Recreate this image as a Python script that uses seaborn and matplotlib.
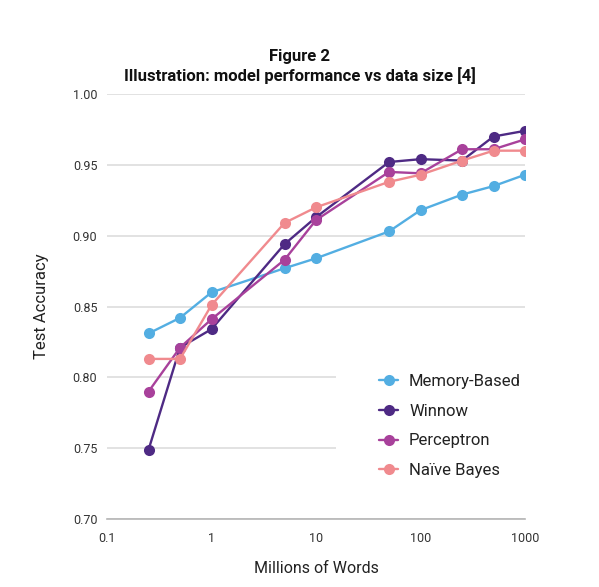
import numpy as np
import pandas as pd
import seaborn as sns
import matplotlib
matplotlib.use("Agg")
import matplotlib.pyplot as plt
from matplotlib.lines import Line2D
from matplotlib.patches import Rectangle

# ---- data ----
words = [0.25, 0.5, 1, 5, 10, 50, 100, 250, 500, 1000]
memory_based = [0.831, 0.842, 0.860, 0.877, 0.884, 0.903, 0.918, 0.929, 0.935, 0.943]
winnow       = [0.749, 0.821, 0.834, 0.894, 0.913, 0.952, 0.954, 0.953, 0.970, 0.974]
perceptron   = [0.790, 0.821, 0.841, 0.883, 0.911, 0.945, 0.944, 0.961, 0.961, 0.968]
naive_bayes  = [0.813, 0.813, 0.851, 0.909, 0.920, 0.938, 0.943, 0.953, 0.960, 0.960]

models = ["Memory-Based", "Winnow", "Perceptron", "Naïve Bayes"]
colors = ["#53AEE2", "#4E2A84", "#A8419B", "#F08A8E"]
xticks = [0.1, 1, 10, 100, 1000]
xtick_labels = ["0.1", "1", "10", "100", "1000"]
yticks = [0.70, 0.75, 0.80, 0.85, 0.90, 0.95, 1.00]

series = [memory_based, winnow, perceptron, naive_bayes]
df = pd.concat(
    [pd.DataFrame({"words": words, "acc": s, "model": m}) for m, s in zip(models, series)],
    ignore_index=True,
)

sns.set_theme(style="white")
plt.rcParams["font.family"] = ["Roboto", "DejaVu Sans"]

W, H = 599, 587
fig = plt.figure(figsize=(W / 100, H / 100), dpi=100)
ax = fig.add_axes([107 / W, 1 - 519 / H, (525 - 107) / W, (519 - 94) / H])

sns.lineplot(data=df, x="words", y="acc", hue="model", hue_order=models,
             palette=colors, marker="o", markersize=8, markeredgewidth=0,
             linewidth=1.7, legend=False, ax=ax, zorder=3)

ax.set_xscale("log")
ax.set_xlim(0.1, 1000)
ax.set_ylim(0.70, 1.00)
ax.set_xticks(xticks)
ax.set_xticklabels(xtick_labels)
ax.minorticks_off()
ax.set_yticks(yticks)
ax.set_yticklabels([f"{v:.2f}" for v in yticks])

for s in ["top", "right", "left"]:
    ax.spines[s].set_visible(False)
ax.spines["bottom"].set_color("#b5b5b5")
ax.spines["bottom"].set_linewidth(1.2)
ax.yaxis.grid(True, color="#dddddd", linewidth=1.2)
ax.xaxis.grid(False)
ax.set_axisbelow(True)
ax.tick_params(axis="both", length=0, labelsize=9, colors="#333333")
ax.tick_params(axis="y", pad=7)
ax.tick_params(axis="x", pad=9)

ax.set_xlabel("Millions of Words", fontsize=11.5, color="#222222", labelpad=12)
ax.set_ylabel("Test Accuracy", fontsize=12, color="#222222", labelpad=17)

# white background behind legend (hides grid lines there)
fig.add_artist(Rectangle((336 / W, 1 - 500 / H), (535 - 336) / W, (500 - 330) / H,
                         transform=fig.transFigure, facecolor="white",
                         edgecolor="none", zorder=1.5))
ax.patch.set_visible(False)
fig.patch.set_facecolor("white")

handles = [Line2D([0], [0], color=c, marker="o", markersize=8, markeredgewidth=0,
                  linewidth=1.7) for c in colors]
leg = fig.legend(handles, models, loc="upper left",
                 bbox_to_anchor=(379 / W, 1 - 374 / H), bbox_transform=fig.transFigure,
                 frameon=False, fontsize=12, handlelength=1.15, handletextpad=0.65,
                 labelspacing=0.88, borderpad=0, borderaxespad=0)
for t in leg.get_texts():
    t.set_color("#222222")

fig.text(0.5, 1 - 57 / H, "Figure 2", ha="center", va="center",
         fontsize=12, fontweight="bold", color="#111111")
fig.text(0.5, 1 - 76 / H, "Illustration: model performance vs data size [4]",
         ha="center", va="center", fontsize=12, fontweight="bold", color="#111111")

fig.savefig("out.png", dpi=100, facecolor="white")
